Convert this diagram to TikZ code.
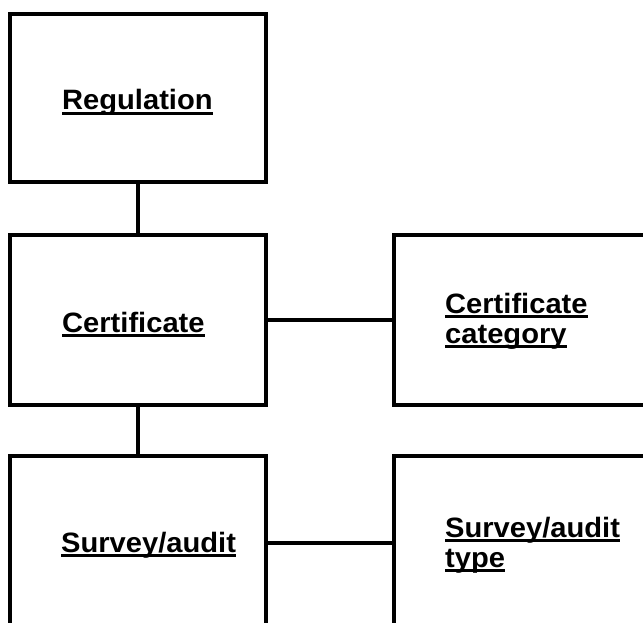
\documentclass[tikz,border=0pt]{standalone}
\usepackage{fontspec}
\setmainfont{Liberation Sans}
\newfontfamily\boxfont{Liberation Sans}[FakeStretch=1.04]
\newsavebox\undlbox
\newcommand\undl[1]{\leavevmode\sbox\undlbox{#1}\rlap{\rule[-5.2pt]{\wd\undlbox}{3pt}}\usebox\undlbox}
\begin{document}
\begin{tikzpicture}[x=1pt,y=1pt,
  entity/.style={draw=black, line width=4.5pt, rectangle, minimum width=256pt, inner sep=0pt},
  link/.style={draw=black, line width=4.5pt},
  lbl/.style={anchor=base west, inner sep=0pt, font=\boxfont\bfseries\fontsize{28}{30}\selectfont}
]
\useasboundingbox (0,0) rectangle (643,-623);
\node[entity, minimum height=168pt] (reg)  at (138,-98) {};
\node[entity, minimum height=170pt] (cert) at (138,-320) {};
\node[entity, minimum height=170pt] (cat)  at (522,-320) {};
\node[entity, minimum height=174pt] (surv) at (138,-543) {};
\node[entity, minimum height=174pt] (type) at (522,-543) {};

\draw[link] (reg.south) -- (cert.north);
\draw[link] (cert.east) -- (cat.west);
\draw[link] (cert.south) -- (surv.north);
\draw[link] (surv.east) -- (type.west);

\node[lbl] (regT)  at (62,-110) {\undl{Regulation}};
\node[lbl] (certT) at (62,-332) {\undl{Certificate}};
\node[lbl] (catT)  at (445,-313) {\parbox[t]{190pt}{\raggedright\baselineskip=30pt\undl{Certificate}\\\undl{category}}};
\node[lbl] (survT) at (61,-552) {\undl{Survey/audit}};
\node[lbl] (typeT) at (445,-537) {\parbox[t]{190pt}{\raggedright\baselineskip=30pt\undl{Survey/audit}\\\undl{type}}};
\end{tikzpicture}
\end{document}
